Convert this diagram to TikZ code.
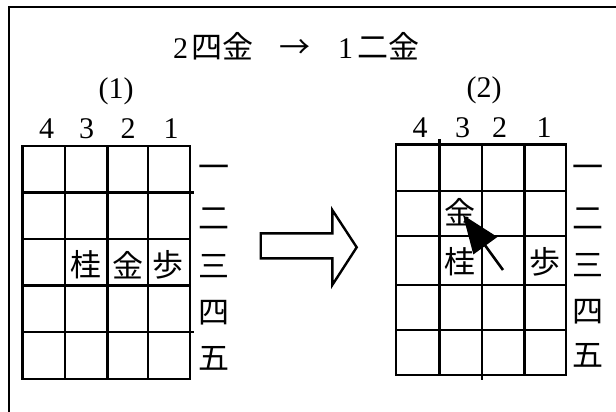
\documentclass[tikz,border=0pt]{standalone}
\usepackage{fontspec}
\setmainfont{Liberation Serif}
\newfontfamily\jp{Noto Sans CJK JP}
\usetikzlibrary{arrows.meta}
\tikzset{
  gridline/.style={line width=2.3pt, line cap=rect},
  lbl/.style={inner sep=0pt, font=\fontsize{30}{36}\selectfont},
  kj/.style={inner sep=0pt, font=\fontsize{31}{36}\selectfont\jp},
}
\begin{document}
\begin{tikzpicture}[x=1pt,y=-1pt]
\useasboundingbox (0,0) rectangle (616,412);
% frame
\draw[line width=2pt] (8.5,420) -- (8.5,7) -- (630,7);
% title
\node[lbl, anchor=base] (title) at (296,59) {2\hspace{3pt}{\fontsize{31}{36}\selectfont\jp 四金}\hspace{27pt}{\fontsize{31}{36}\selectfont\jp →}\hspace{27pt}1\hspace{4pt}{\fontsize{31}{36}\selectfont\jp 二金}};
\node[lbl] (p1) at (116,91) {(1)};
\node[lbl] (p2) at (484,90) {(2)};
% left grid
\foreach \x in {22.5,65,107.5,148,190} \draw[gridline] (\x,146) -- (\x,379);
\foreach \y in {146,239,285.5,379} \draw[gridline] (22.5,\y) -- (190,\y);
\foreach \y in {192.5,332} \draw[gridline] (22.5,\y) -- (193,\y);
\node[lbl] (lc4) at (46.5,129) {4};
\node[lbl] (lc3) at (86.5,129) {3};
\node[lbl] (lc2) at (128,129) {2};
\node[lbl] (lc1) at (171,129) {1};
\node[kj] (lr1) at (214,172) {一};
\node[kj] (lr2) at (214,219) {二};
\node[kj] (lr3) at (214,266) {三};
\node[kj] (lr4) at (214,313) {四};
\node[kj] (lr5) at (214,358) {五};
\node[kj] (lkei) at (86,265) {桂};
\node[kj] (lkin) at (128,265) {金};
\node[kj] (lfu) at (168,265) {歩};
% block arrow
\draw[line width=2.4pt, line join=miter, fill=white]
  (260.7,233.3) -- (332.3,233.3) -- (332.3,210) -- (356.7,247.3)
  -- (332.3,285) -- (332.3,258.3) -- (260.7,258.3) -- cycle;
% right grid
\foreach \x in {396,524.5,566} \draw[gridline] (\x,144.5) -- (\x,375);
\draw[gridline] (439.5,140) -- (439.5,375);
\draw[gridline] (482,144.5) -- (482,378.5);
\foreach \y in {144.5,191,236,285,330,375} \draw[gridline] (396,\y) -- (566,\y);
\node[lbl] (rc4) at (420,128) {4};
\node[lbl] (rc3) at (462.5,128) {3};
\node[lbl] (rc2) at (499.5,128) {2};
\node[lbl] (rc1) at (544,128) {1};
\node[kj] (rr1) at (588,172) {一};
\node[kj] (rr2) at (588,218.5) {二};
\node[kj] (rr3) at (588,265) {三};
\node[kj] (rr4) at (588,311.5) {四};
\node[kj] (rr5) at (588,355.5) {五};
\node[kj] (rkin) at (460,212) {金};
\node[kj] (rkei) at (460,262) {桂};
\node[kj] (rfu) at (545,262) {歩};
% move arrow
\coordinate (mvtail) at (503,270);
\coordinate (mvtip) at (463,215);
\draw[line width=2.6pt, -{Triangle[length=38pt,width=29pt]}] (mvtail) -- (mvtip);
\end{tikzpicture}
\end{document}
